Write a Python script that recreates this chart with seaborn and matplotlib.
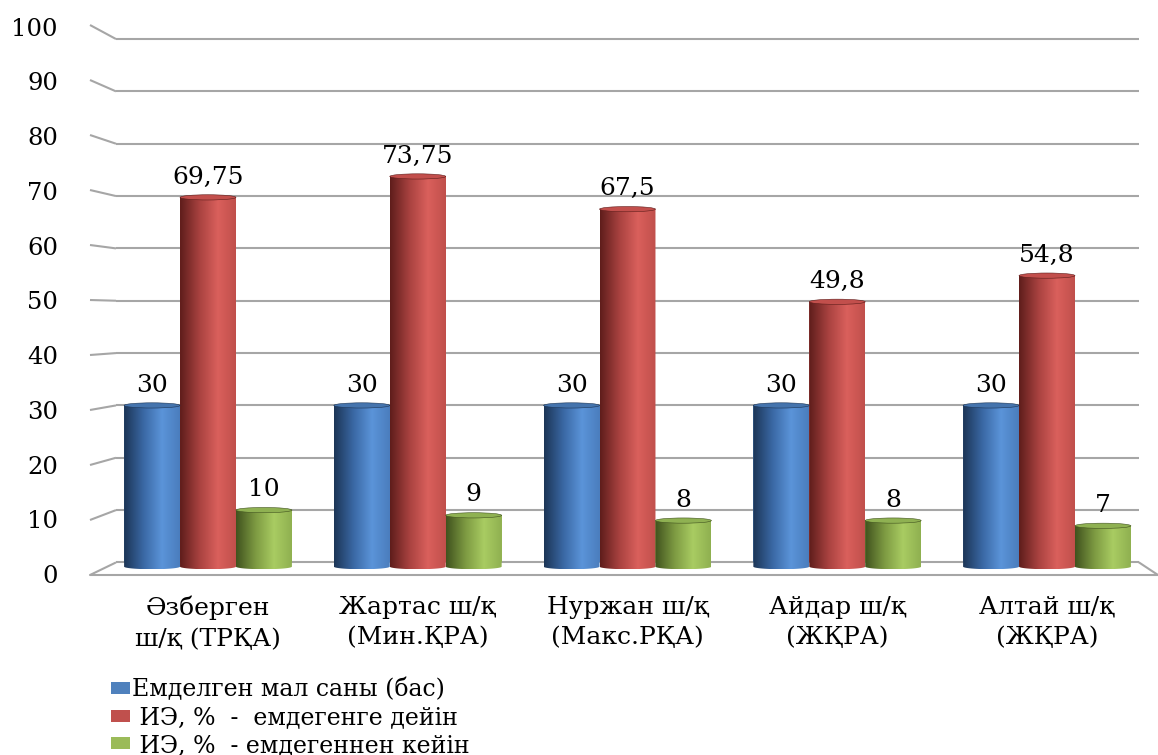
import numpy as np
import pandas as pd
import matplotlib
matplotlib.use("Agg")
import matplotlib.pyplot as plt
import seaborn as sns
from matplotlib.colors import LinearSegmentedColormap
from matplotlib.patches import Ellipse, PathPatch
from matplotlib.path import Path

# ---- data -------------------------------------------------------------
categories = [
    "Әзберген\nш/қ (ТРҚА)",
    "Жартас ш/қ\n(Мин.ҚРА)",
    "Нуржан ш/қ\n(Макс.РҚА)",
    "Айдар ш/қ\n(ЖҚРА)",
    "Алтай ш/қ\n(ЖҚРА)",
]
series = [
    "Емделген мал саны (бас)",
    " ИЭ, %  -  емдегенге дейін",
    " ИЭ, %  - емдегеннен кейін",
]
treated = [30, 30, 30, 30, 30]
before = [69.75, 73.75, 67.5, 49.8, 54.8]
after = [10, 9, 8, 8, 7]
yticks = list(range(0, 101, 10))

# ---- styling ----------------------------------------------------------
palette = ["#4f81bd", "#c0504d", "#9bbb59"]
# cylinder shading: dark edge -> mid -> highlight -> right side
shades = [
    ["#1c3556", "#3a68a4", "#5b94d9", "#4a7dbd"],
    ["#5e1d1b", "#a94240", "#da605c", "#c04f4b"],
    ["#40521e", "#7d9a42", "#a9cc62", "#8fb050"],
]
tops = ["#4574ad", "#c24f4c", "#8fb152"]
grid_c = "#a6a6a6"
FS = 18

sns.set_style("white")
plt.rcParams["font.family"] = ["DejaVu Serif"]
plt.rcParams["text.color"] = "black"
plt.rcParams["xtick.color"] = "black"
plt.rcParams["ytick.color"] = "black"

df = pd.DataFrame({
    "category": categories * 3,
    "series": np.repeat(series, len(categories)),
    "value": treated + before + after,
})

W, H = 1158, 755
fig = plt.figure(figsize=(W / 100, H / 100), dpi=100)

# axes geometry (pixels): back wall from x=116 to 1139, floor front edge at y=575
ylim = (-2.4, 100.3)
px_per_unit = 5.234
ax_h_px = (ylim[1] - ylim[0]) * px_per_unit
ax = fig.add_axes([116 / W, (H - 575) / H, (1139 - 116) / W, ax_h_px / H])

sns.barplot(
    data=df, x="category", y="value", hue="series",
    order=categories, hue_order=series, palette=palette,
    saturation=1, width=0.8, linewidth=0, ax=ax,
)

xlim = (-0.4386, 4.4386)
ax.set_xlim(*xlim)
ax.set_ylim(*ylim)
x_per_px = (xlim[1] - xlim[0]) / (1139 - 116)

ax.set_yticks(yticks)
ax.yaxis.grid(True, color=grid_c, lw=1.5)
ax.xaxis.grid(False)
ax.set_axisbelow(True)
ax.tick_params(axis="y", labelleft=False, length=0)
ax.tick_params(axis="x", length=0, pad=15, labelsize=FS, labelcolor="black")
for lbl in ax.get_xticklabels():
    lbl.set_linespacing(1.4)
for s in ax.spines.values():
    s.set_visible(False)
ax.set_xlabel("")
ax.set_ylabel("")

# ---- perspective side wall and floor ----------------------------------
x_front = xlim[0] - 26 * x_per_px
x_right_front = xlim[1] + 19 * x_per_px


def front_y(v):
    return ylim[0] + 1.0508 * v


for v in yticks:
    ax.plot([x_front, xlim[0]], [front_y(v), v], color=grid_c, lw=1.5,
            clip_on=False, solid_capstyle="butt")
    ax.text(xlim[0] - 58 * x_per_px, front_y(v) - 0.3 - 0.5 * v / 100, str(v),
            ha="right", va="center", fontsize=17.5, color="black", clip_on=False)
ax.plot([x_front, x_right_front], [ylim[0], ylim[0]], color=grid_c, lw=1.5,
        clip_on=False)
ax.plot([xlim[1], x_right_front], [0, ylim[0]], color=grid_c, lw=1.5,
        clip_on=False)

# ---- cylinders ---------------------------------------------------------
ry = 0.5
base = -0.8  # cylinder bases stand slightly in front of the back wall
grad = np.linspace(0, 1, 256)[None, :]
for si, cont in enumerate(ax.containers):
    cmap = LinearSegmentedColormap.from_list(
        f"cyl{si}", list(zip([0.0, 0.35, 0.68, 1.0], shades[si])))
    for bar in cont:
        x0, w, h = bar.get_x(), bar.get_width(), bar.get_height()
        cx = x0 + w / 2
        t = np.linspace(np.pi, 2 * np.pi, 80)
        verts = [(x0, h)] + list(zip(cx + (w / 2) * np.cos(t),
                                     base + ry * np.sin(t))) \
            + [(x0 + w, h), (x0, h)]
        codes = [Path.MOVETO] + [Path.LINETO] * (len(verts) - 2) + [Path.CLOSEPOLY]
        body = PathPatch(Path(verts, codes), transform=ax.transData,
                         facecolor="none", edgecolor="none")
        ax.add_patch(body)
        im = ax.imshow(grad, cmap=cmap, aspect="auto",
                       extent=[x0, x0 + w, base - ry, h], zorder=3,
                       interpolation="bilinear")
        im.set_clip_path(body)
        ax.add_patch(Ellipse((cx, h), w, 2 * ry, facecolor=tops[si],
                             edgecolor=shades[si][0], lw=0.4, zorder=4))
        ax.annotate(f"{h:g}".replace(".", ","), (cx, h), xytext=(0, 10),
                    textcoords="offset points", ha="center", va="baseline",
                    fontsize=FS, color="black", zorder=5)

ax.set_xlim(*xlim)
ax.set_ylim(*ylim)

# ---- legend ------------------------------------------------------------
sns.move_legend(
    ax, "upper left", bbox_to_anchor=(111 / W, 1 - 678 / H),
    bbox_transform=fig.transFigure, frameon=False, title=None,
    fontsize=17, handlelength=0.8, handleheight=0.4, handletextpad=0.1,
    labelspacing=0.2, borderpad=0, borderaxespad=0, labelcolor="black",
)

fig.savefig("out.png", dpi=100)
